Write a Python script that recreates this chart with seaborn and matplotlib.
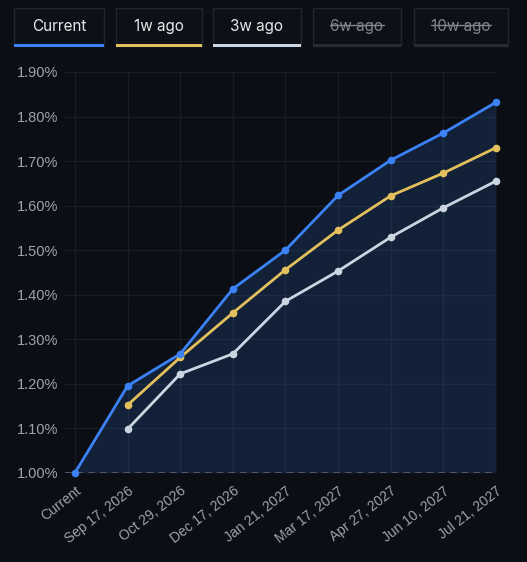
import numpy as np
import pandas as pd
import matplotlib.pyplot as plt
import seaborn as sns
from matplotlib.patches import Rectangle

# data (percent)
dates = ['Current', 'Sep 17, 2026', 'Oct 29, 2026', 'Dec 17, 2026', 'Jan 21, 2027',
         'Mar 17, 2027', 'Apr 27, 2027', 'Jun 10, 2027', 'Jul 21, 2027']
current = [1.000, 1.195, 1.267, 1.413, 1.500, 1.623, 1.702, 1.763, 1.832]
week1 = [np.nan, 1.152, 1.259, 1.359, 1.456, 1.545, 1.622, 1.673, 1.730]
week3 = [np.nan, 1.098, 1.222, 1.267, 1.385, 1.453, 1.529, 1.595, 1.655]
yticks = [1.0, 1.1, 1.2, 1.3, 1.4, 1.5, 1.6, 1.7, 1.8, 1.9]
legend_names = ['Current', '1w ago', '3w ago', '6w ago', '10w ago']
legend_on = [True, True, True, False, False]

BG = '#0b0e14'
GRID = '#171c25'
TXT = '#9ea3ab'
colors = {'Current': '#3b82f6', '1w ago': '#e3c05c', '3w ago': '#cbd5e1'}

pos = np.arange(len(dates))
df = pd.DataFrame({'pos': pos, 'Current': current, '1w ago': week1, '3w ago': week3})

sns.set_style("dark")
plt.rcParams['font.family'] = ['Liberation Sans', 'DejaVu Sans']
fig = plt.figure(figsize=(5.27, 5.62), dpi=100, facecolor=BG)
ax = fig.add_axes([65 / 527, 1 - 472.7 / 562, (496 - 65) / 527, (472.7 - 72) / 562])
ax.set_facecolor(BG)

# shaded area under current curve
ax.fill_between(pos, current, 1.0, color='#3b82f6', alpha=0.16, linewidth=0, zorder=1)

for name, z in [('3w ago', 3), ('1w ago', 4), ('Current', 5)]:
    sns.lineplot(data=df, x='pos', y=name, ax=ax, color=colors[name],
                 marker='o', markersize=5.5, markeredgewidth=0, linewidth=2,
                 zorder=z, clip_on=False)

ax.axhline(1.0, color='#5c6370', linestyle=(0, (4, 3)), linewidth=1.2, zorder=2)

ax.set_xlim(-0.19, len(dates) - 1)
ax.set_ylim(1.0, 1.9)
ax.set_xticks(pos)
ax.set_xticklabels(dates, rotation=38, ha='right', rotation_mode='anchor')
ax.set_yticks(yticks)
ax.set_yticklabels([f'{v:.2f}%' for v in yticks])
ax.grid(True, color=GRID, linewidth=1)
ax.tick_params(axis='x', colors=GRID, labelcolor=TXT, labelsize=10, length=6, width=1, pad=2)
ax.tick_params(axis='y', colors=GRID, labelcolor=TXT, labelsize=10.5, length=0, pad=5)
for s in ax.spines.values():
    s.set_visible(False)
ax.set_xlabel('')
ax.set_ylabel('')
leg = ax.get_legend()
if leg:
    leg.remove()

# legend buttons along the top
boxes = [(14, 104), (116, 202), (213, 301), (313, 401), (414, 508)]
W, H = 527, 562
under = ['#3b82f6', '#e3c05c', '#cbd5e1', '#262b34', '#262b34']
for (x0, x1), name, on, uc in zip(boxes, legend_names, legend_on, under):
    fig.patches.append(Rectangle((x0 / W, 1 - 46 / H), (x1 - x0) / W, 38 / H,
                                 transform=fig.transFigure, facecolor='#0d1117',
                                 edgecolor='#20252e', linewidth=1))
    fig.patches.append(Rectangle((x0 / W, 1 - 46.5 / H), (x1 - x0) / W, 2.5 / H,
                                 transform=fig.transFigure, facecolor=uc,
                                 edgecolor='none'))
    t = fig.text((x0 + x1) / 2 / W, 1 - 25 / H, name, ha='center', va='center_baseline',
                 fontsize=11, family=['Inter', 'DejaVu Sans'],
                 color='#e6e8eb' if on else '#80858d')
    if not on:
        fig.canvas.draw()
        bb = t.get_window_extent()
        fig.add_artist(plt.Line2D([bb.x0 / W, bb.x1 / W], [1 - 25 / H, 1 - 25 / H],
                                  transform=fig.transFigure, color='#80858d', linewidth=1))

plt.savefig('out.png', dpi=100, facecolor=BG)
